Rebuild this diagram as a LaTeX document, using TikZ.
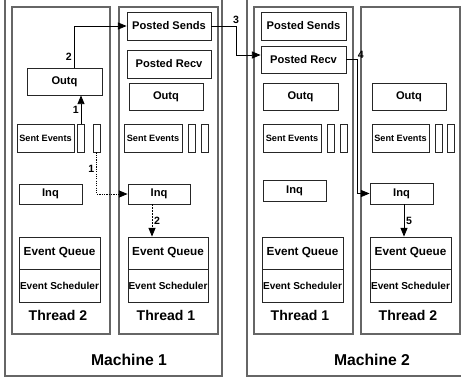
\documentclass[tikz,border=0pt]{standalone}
\usepackage{fontspec}
\setmainfont{Liberation Sans}
\usepackage{tikz}
\usetikzlibrary{arrows.meta,positioning,calc}
\tikzstyle{machine}=[draw=black!60, line width=1.3pt, inner sep=0pt]
\tikzstyle{thread}=[draw=black!60, line width=1pt, inner sep=0pt]
\tikzstyle{box}=[draw=black!85, line width=0.7pt, inner sep=0pt, font=\fontsize{9.5}{11}\selectfont\bfseries]
\tikzstyle{slot}=[draw=black!85, line width=0.7pt, inner sep=0pt, minimum width=7*0.03cm, minimum height=28*0.03cm]
\tikzstyle{lbl}=[font=\fontsize{9}{10}\selectfont\bfseries, inner sep=1.5pt]
\tikzstyle{arr}=[-{Triangle[length=2.6mm,width=2.1mm]}, line width=0.7pt]
\tikzset{sz/.style 2 args={minimum width=#1*0.03cm, minimum height=#2*0.03cm}}

\begin{document}
\begin{tikzpicture}[x=0.03cm,y=-0.03cm]
				\clip(0,0)rectangle(461,381);
				% machines and threads
				\node[machine,sz={217}{386}](M1)at(113.5,183){};
				\node[machine,sz={223}{386}](M2)at(358.5,183){};
				\node[thread,sz={98}{327}](T12)at(61,170.5){};
				\node[thread,sz={99}{327}](T11)at(168.5,170.5){};
				\node[thread,sz={99}{327}](T21)at(303.5,170.5){};
				\node[thread,sz={99}{327}](T22)at(410.5,170.5){};
				\node[font=\fontsize{13.4}{15}\selectfont\bfseries](M1l)at(129,360){Machine 1};
				\node[font=\fontsize{13.4}{15}\selectfont\bfseries](M2l)at(372,360){Machine 2};
				\node[font=\fontsize{12}{14}\selectfont\bfseries](T12l)at(58,315){Thread 2};
				\node[font=\fontsize{12}{14}\selectfont\bfseries](T11l)at(166,315){Thread 1};
				\node[font=\fontsize{12}{14}\selectfont\bfseries](T21l)at(300,315){Thread 1};
				\node[font=\fontsize{12}{14}\selectfont\bfseries](T22l)at(408,315){Thread 2};
				% machine 1, thread 2
				\node[box,sz={75}{27}](OqA)at(64.5,81.5){Outq};
				\node[box,sz={57}{28},font=\fontsize{7.8}{9}\selectfont\bfseries](SeA)at(45.5,138){Sent Events};
				\node[slot](SA1)at(81,138){};
				\node[slot](SA2)at(96.5,138){};
				\node[box,sz={63}{20}](IqA)at(50.5,194){Inq};
				\node[box,sz={81}{32},font=\fontsize{10}{12}\selectfont\bfseries](EqA)at(59.5,253){Event Queue};
				\node[box,sz={81}{33},font=\fontsize{8.6}{10}\selectfont\bfseries](EsA)at(59.5,285.5){Event Scheduler};
				% machine 1, thread 1
				\node[box,sz={84}{28}](PsB)at(169,26){Posted Sends};
				\node[box,sz={84}{28}](PrB)at(169,64){Posted Recv};
				\node[box,sz={74}{27}](OqB)at(166,96.5){Outq};
				\node[box,sz={58}{28},font=\fontsize{7.8}{9}\selectfont\bfseries](SeB)at(153,138){Sent Events};
				\node[slot](SB1)at(192,138){};
				\node[slot](SB2)at(205,138){};
				\node[box,sz={62}{20}](IqB)at(159,194){Inq};
				\node[box,sz={80}{32},font=\fontsize{10}{12}\selectfont\bfseries](EqB)at(168,253){Event Queue};
				\node[box,sz={80}{33},font=\fontsize{8.6}{10}\selectfont\bfseries](EsB)at(168,285.5){Event Scheduler};
				% machine 2, thread 1
				\node[box,sz={85}{28}](PsC)at(303.5,26){Posted Sends};
				\node[box,sz={85}{27}](PrC)at(303.5,59.5){Posted Recv};
				\node[box,sz={75}{27}](OqC)at(300.5,96.5){Outq};
				\node[box,sz={58}{28},font=\fontsize{7.8}{9}\selectfont\bfseries](SeC)at(292,138){Sent Events};
				\node[slot](SC1)at(330.5,138){};
				\node[slot](SC2)at(344,138){};
				\node[box,sz={63}{21}](IqC)at(294.5,190.5){Inq};
				\node[box,sz={81}{32},font=\fontsize{10}{12}\selectfont\bfseries](EqC)at(302.5,253){Event Queue};
				\node[box,sz={81}{33},font=\fontsize{8.6}{10}\selectfont\bfseries](EsC)at(302.5,285.5){Event Scheduler};
				% machine 2, thread 2
				\node[box,sz={74}{27}](OqD)at(409,96.5){Outq};
				\node[box,sz={57}{28},font=\fontsize{7.8}{9}\selectfont\bfseries](SeD)at(400.5,138){Sent Events};
				\node[slot](SD1)at(439,138){};
				\node[slot](SD2)at(451,138){};
				\node[box,sz={63}{21}](IqD)at(401.5,193.5){Inq};
				\node[box,sz={81}{32},font=\fontsize{10}{12}\selectfont\bfseries](EqD)at(410.5,253){Event Queue};
				\node[box,sz={81}{33},font=\fontsize{8.6}{10}\selectfont\bfseries](EsD)at(410.5,285.5){Event Scheduler};
				% message path
				\draw[arr](SA1.north)--(SA1.north|-OqA.south)node[pos=0.5, left, lbl]{1};
				\draw[arr]([xshift=9.5*0.03cm]OqA.north)|-(PsB.west)node[pos=0.13, left, lbl]{2};
				\draw[arr, dash pattern=on 1pt off 1pt](SA2.south)|-(IqB.west)node[pos=0.2, left, lbl]{1};
				\draw[arr, dash pattern=on 1.5pt off 1pt](IqB.south-|152,0)--(EqB.north-|152,0)node[pos=0.5, right, lbl]{2};
				\coordinate(C3)at(236,26);
				\draw[arr](PsB.east)--(C3)|-([yshift=4.5*0.03cm]PrC.west);
				\node[lbl, above](L3)at(C3){3};
				\coordinate(C4)at(357,59.5);
				\draw[arr](PrC.east)--(C4)|-(IqD.west);
				\node[lbl, above right, inner sep=0.5pt](L4)at(C4){4};
				\draw[arr](IqD.south-|404,0)--(EqD.north-|404,0)node[pos=0.5, right, lbl]{5};
			\end{tikzpicture}
\end{document}
